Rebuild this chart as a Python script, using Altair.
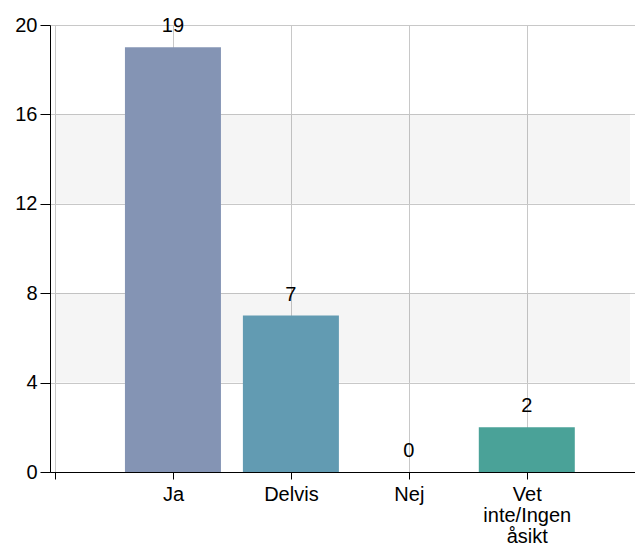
import altair as alt
import pandas as pd

categories = ["Ja", "Delvis", "Nej", "Vet inte/Ingen åsikt"]
label_lines = ["Ja", "Delvis", "Nej", "Vet|inte/Ingen|åsikt"]
values = [19, 7, 0, 2]
colors = ["#8494B4", "#629BB2", "#7FA9A0", "#4AA298"]
positions = [1, 2, 3, 4]
bands_lo = [4, 12]
bands_hi = [8, 16]

df = pd.DataFrame({"cat": categories, "pos": positions, "value": values, "color": colors})
bands = pd.DataFrame({"y": bands_lo, "y2": bands_hi, "x": [0, 0], "x2": [4.875, 4.875]})

FONT = "Liberation Sans"
label_map = "[''," + ",".join("'" + l + "'" for l in label_lines) + "]"

xscale = alt.Scale(domain=[0, 4.875], nice=False, zero=False)
yscale = alt.Scale(domain=[0, 20], nice=False)

band_layer = alt.Chart(bands).mark_rect(color="black", opacity=0.04).encode(
    x=alt.X("x:Q", scale=xscale),
    x2="x2:Q",
    y=alt.Y("y:Q", scale=yscale),
    y2="y2:Q",
)

bars = alt.Chart(df).mark_bar(size=96).encode(
    x=alt.X(
        "pos:Q",
        scale=xscale,
        title=None,
        axis=alt.Axis(
            values=[0, 1, 2, 3, 4],
            labelExpr="split(" + label_map + "[datum.value], '|')",
            grid=True,
            gridColor="#c8c8c8",
            gridWidth=1,
            domainColor="black",
            tickColor="black",
            tickSize=7,
            labelFont=FONT,
            labelFontSize=20,
            labelColor="black",
            labelPadding=5,
            labelLineHeight=21,
            labelBaseline="top",
        ),
    ),
    y=alt.Y(
        "value:Q",
        scale=yscale,
        title=None,
        axis=alt.Axis(
            values=[0, 4, 8, 12, 16, 20],
            grid=True,
            gridColor="#c8c8c8",
            gridWidth=1,
            domainColor="black",
            tickColor="black",
            tickSize=10,
            labelFont=FONT,
            labelFontSize=20,
            labelColor="black",
            labelPadding=3,
        ),
    ),
    color=alt.Color("color:N", scale=None),
)

text = alt.Chart(df).mark_text(
    font=FONT, fontSize=20, color="black", baseline="alphabetic", dy=-15
).encode(
    x=alt.X("pos:Q", scale=xscale),
    y=alt.Y("value:Q", scale=yscale),
    text="value:Q",
)

chart = alt.layer(band_layer, bars, text).properties(
    width=585,
    height=447,
    autosize=alt.AutoSizeParams(type="none"),
    padding={"left": 42, "top": 17, "right": 0, "bottom": 74},
).configure_view(stroke=None).configure(background="white")

chart.save("out.html", embed_options={"renderer": "svg", "actions": False})
